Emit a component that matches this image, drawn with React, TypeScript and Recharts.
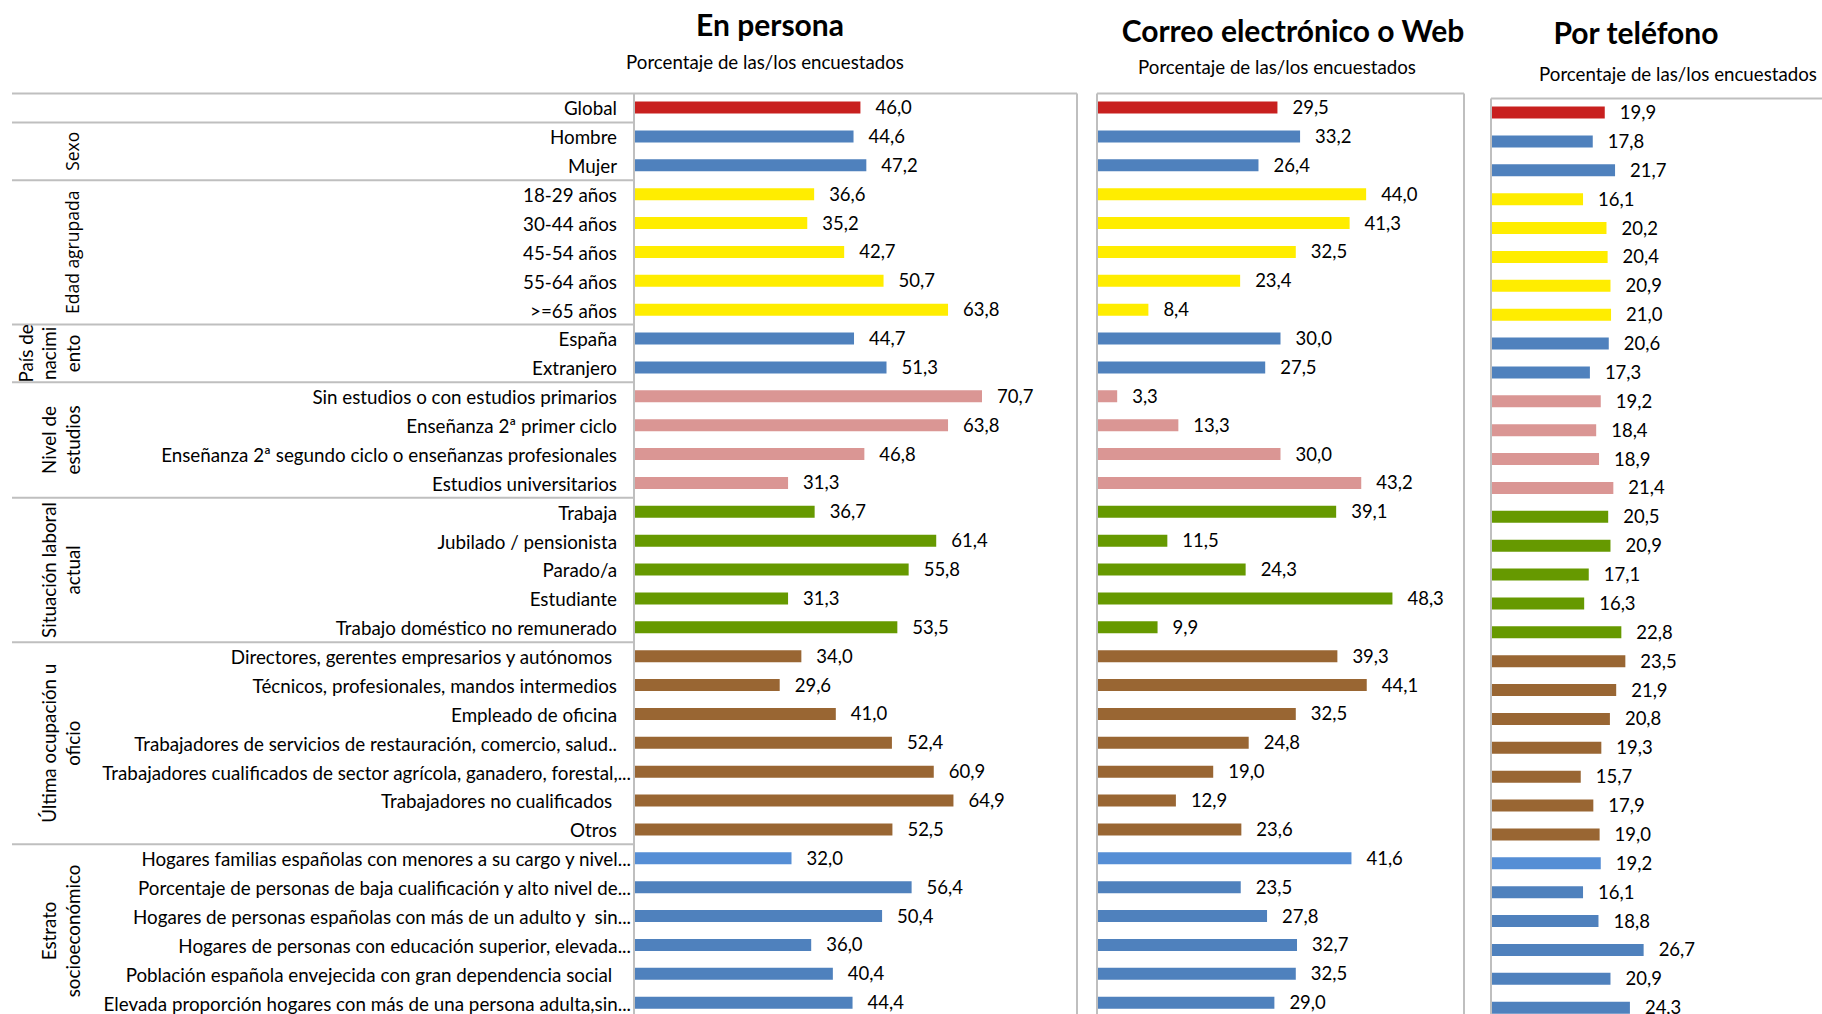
import { BarChart, Bar, XAxis, YAxis, Cell, LabelList, ReferenceLine } from 'recharts';

const categories = [
  'Global',
  'Hombre',
  'Mujer',
  '18-29 años',
  '30-44 años',
  '45-54 años',
  '55-64 años',
  '>=65 años',
  'España',
  'Extranjero',
  'Sin estudios o con estudios primarios',
  'Enseñanza 2ª primer ciclo',
  'Enseñanza 2ª segundo ciclo o enseñanzas profesionales',
  'Estudios universitarios',
  'Trabaja',
  'Jubilado / pensionista',
  'Parado/a',
  'Estudiante',
  'Trabajo doméstico no remunerado',
  'Directores, gerentes empresarios y autónomos ',
  'Técnicos, profesionales, mandos intermedios',
  'Empleado de oficina',
  'Trabajadores de servicios de restauración, comercio, salud..',
  'Trabajadores cualificados de sector agrícola, ganadero, forestal,...',
  'Trabajadores no cualificados ',
  'Otros',
  'Hogares familias españolas con menores a su cargo y nivel...',
  'Porcentaje de personas de baja cualificación y alto nivel de...',
  'Hogares de personas españolas con más de un adulto y  sin...',
  'Hogares de personas con educación superior, elevada...',
  'Población española envejecida con gran dependencia social ',
  'Elevada proporción hogares con más de una persona adulta,sin...',
];

const enPersona = [
  46.0, 44.6, 47.2, 36.6, 35.2, 42.7, 50.7, 63.8, 44.7, 51.3, 70.7, 63.8, 46.8, 31.3, 36.7, 61.4,
  55.8, 31.3, 53.5, 34.0, 29.6, 41.0, 52.4, 60.9, 64.9, 52.5, 32.0, 56.4, 50.4, 36.0, 40.4, 44.4,
];

const correoWeb = [
  29.5, 33.2, 26.4, 44.0, 41.3, 32.5, 23.4, 8.4, 30.0, 27.5, 3.3, 13.3, 30.0, 43.2, 39.1, 11.5,
  24.3, 48.3, 9.9, 39.3, 44.1, 32.5, 24.8, 19.0, 12.9, 23.6, 41.6, 23.5, 27.8, 32.7, 32.5, 29.0,
];

const porTelefono = [
  19.9, 17.8, 21.7, 16.1, 20.2, 20.4, 20.9, 21.0, 20.6, 17.3, 19.2, 18.4, 18.9, 21.4, 20.5, 20.9,
  17.1, 16.3, 22.8, 23.5, 21.9, 20.8, 19.3, 15.7, 17.9, 19.0, 19.2, 16.1, 18.8, 26.7, 20.9, 24.3,
];

const groupLabels = [
  [],
  ['Sexo'],
  ['Edad agrupada'],
  ['País de', 'nacimi', 'ento'],
  ['Nivel de', 'estudios'],
  ['Situación laboral', 'actual'],
  ['Última ocupación u', 'oficio'],
  ['Estrato', 'socioeconómico'],
];
const groupSizes = [1, 2, 5, 2, 4, 5, 7, 6];
const groupColors = ['#C8201F', '#4F81BD', '#FFED00', '#4F81BD', '#DA9694', '#669900', '#996633', '#4F81BD'];
const lighterRow = 'Hogares familias españolas con menores a su cargo y nivel...';

// which group each row belongs to
const rowGroup: number[] = [];
const groupStart: number[] = [];
groupSizes.forEach((n, g) => {
  groupStart.push(rowGroup.length);
  for (let k = 0; k < n; k++) rowGroup.push(g);
});

const rows = categories.map((name, i) => ({
  name,
  enPersona: enPersona[i],
  correoWeb: correoWeb[i],
  porTelefono: porTelefono[i],
  color: name === lighterRow ? '#558ED5' : groupColors[rowGroup[i]],
}));

const FONT = 'Lato, "Open Sans", sans-serif';
const GRID = '#BFBFBF';
const BAND = 28.875;
const AXIS_X = 634;

const fmt = (v: any) => Number(v).toFixed(1).replace('.', ',');

const CategoryTick = (props: any) => {
  const { y, payload, index } = props;
  const label: string = payload.value;
  const g = rowGroup[index];
  const first = groupStart[g] === index;
  const pad = label.endsWith('...') ? 3 : 17;
  const lines = groupLabels[g];
  const cy = y + ((groupSizes[g] - 1) * BAND) / 2;
  const wide = g === 1 || g === 2;
  return (
    <g>
      <text
        x={AXIS_X - pad}
        y={y}
        textAnchor="end"
        dominantBaseline="central"
        xmlSpace="preserve"
        style={{ whiteSpace: 'pre' }}
        fontFamily={FONT}
        fontSize={18.8}
        fill="#000"
      >
        {label}
      </text>
      {first && (
        <line x1={12} x2={AXIS_X} y1={y - BAND / 2} y2={y - BAND / 2} stroke={GRID} strokeWidth={2} />
      )}
      {first &&
        lines.map((ln, k) => {
          const lx = 72 - (lines.length - 1 - k) * 23.5;
          return (
            <text
              key={k}
              x={lx}
              y={cy}
              transform={`rotate(-90 ${lx} ${cy})`}
              textAnchor="middle"
              dominantBaseline="central"
              fontFamily={wide ? '"Open Sans", sans-serif' : FONT}
              fontSize={wide ? 17.5 : 18.8}
              fill="#000"
            >
              {ln}
            </text>
          );
        })}
    </g>
  );
};

const Panel = ({ dataKey, max, left, width, top, marginLeft, marginRight, withLabels }: any) => (
  <div style={{ position: 'absolute', left, top: 0 }}>
    <BarChart
      width={width}
      height={top + 32 * BAND + 12}
      data={rows}
      layout="vertical"
      margin={{ top: top - 1, right: marginRight, bottom: 12, left: marginLeft }}
    >
      <XAxis
        type="number"
        domain={[0, max]}
        orientation="top"
        height={1}
        tick={false}
        tickLine={false}
        axisLine={{ stroke: GRID, strokeWidth: 2 }}
        allowDataOverflow
      />
      <YAxis
        type="category"
        dataKey="name"
        width={withLabels ? AXIS_X : 1}
        interval={0}
        tickLine={false}
        tick={withLabels ? <CategoryTick /> : false}
        axisLine={{ stroke: GRID, strokeWidth: 2 }}
      />
      <ReferenceLine x={max} stroke={GRID} strokeWidth={2} />
      <Bar dataKey={dataKey} barSize={12} isAnimationActive={false}>
        {rows.map((r, i) => (
          <Cell key={i} fill={r.color} />
        ))}
        <LabelList
          dataKey={dataKey}
          position="right"
          offset={15}
          formatter={fmt}
          fill="#000"
          fontSize={18.5}
          fontFamily={FONT}
        />
      </Bar>
    </BarChart>
  </div>
);

const titles = [
  { text: 'En persona', x: 770, y: 24 },
  { text: 'Correo electrónico o Web', x: 1293, y: 30 },
  { text: 'Por teléfono', x: 1636, y: 32 },
];
const subtitles = [
  { x: 765, y: 62 },
  { x: 1277, y: 67 },
  { x: 1678, y: 74 },
];

export default function App() {
  return (
    <div
      style={{
        position: 'absolute',
        left: 0,
        top: 0,
        width: 1822,
        height: 1014,
        overflow: 'hidden',
        background: '#fff',
      }}
    >
      <Panel dataKey="enPersona" max={90} left={0} width={1100} top={93.5} marginLeft={0} marginRight={23} withLabels />
      <Panel dataKey="correoWeb" max={60} left={1080} width={410} top={93.5} marginLeft={16} marginRight={26} />
      <Panel dataKey="porTelefono" max={60} left={1474} width={380} top={98.5} marginLeft={16} marginRight={20} />
      <svg width={1822} height={110} style={{ position: 'absolute', left: 0, top: 0, pointerEvents: 'none' }}>
        {titles.map((t) => (
          <text
            key={t.text}
            x={t.x}
            y={t.y}
            textAnchor="middle"
            dominantBaseline="central"
            fontFamily={FONT}
            fontWeight={700}
            fontSize={30}
            fill="#000"
          >
            {t.text}
          </text>
        ))}
        {subtitles.map((s, i) => (
          <text
            key={i}
            x={s.x}
            y={s.y}
            textAnchor="middle"
            dominantBaseline="central"
            fontFamily={FONT}
            fontSize={18.7}
            fill="#000"
          >
            Porcentaje de las/los encuestados
          </text>
        ))}
      </svg>
    </div>
  );
}
